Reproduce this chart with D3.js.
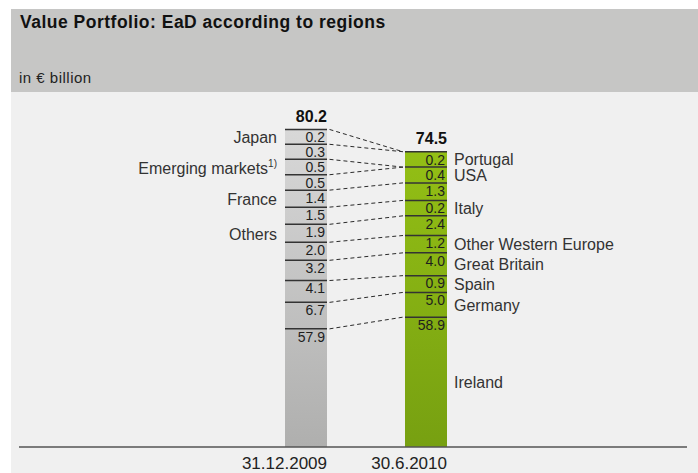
<!DOCTYPE html>
<html>
<head>
<meta charset="utf-8">
<script src="https://cdn.jsdelivr.net/npm/d3@7"></script>
<style>
  html, body { margin: 0; padding: 0; background: #ffffff; }
  svg { display: block; font-family: "Liberation Sans", Arial, Helvetica, sans-serif; }
</style>
</head>
<body>
<svg id="chart" width="698" height="473"></svg>
<script>
// Reporting dates and the EaD totals (in € billion)
const dates = ["31.12.2009", "30.6.2010"];
const totals = [80.2, 74.5];

// Regional breakdown, listed from the top of each stack down to the base
const values2009 = [0.2, 0.3, 0.5, 0.5, 1.4, 1.5, 1.9, 2.0, 3.2, 4.1, 6.7, 57.9];
const labels2009 = ["Japan", "", "Emerging markets", "", "France", "", "Others", "", "", "", "", ""];

const values2010 = [0.2, 0.4, 1.3, 0.2, 2.4, 1.2, 4.0, 0.9, 5.0, 58.9];
const labels2010 = ["Portugal", "USA", "", "Italy", "", "Other Western Europe", "Great Britain", "Spain", "Germany", "Ireland"];

// Which 2010 segment top each 2009 segment top is joined to
const links2009 = [0, 0, 1, 1, 2, 3, 4, 5, 6, 7, 8, 9];

const svg = d3.select("#chart");
const W = 698, H = 473;
const baseY = 447;

// Background panel and header band
svg.append("rect").attr("x", 11).attr("y", 9).attr("width", W - 11).attr("height", H - 9).attr("fill", "#f0f0f0");
svg.append("rect").attr("x", 11).attr("y", 9).attr("width", W - 11).attr("height", 83).attr("fill", "#c6c6c5");
svg.append("text").attr("x", 20).attr("y", 28)
  .attr("font-size", 17.5).attr("font-weight", "bold").attr("fill", "#111")
  .attr("letter-spacing", 0.5)
  .text("Value Portfolio: EaD according to regions");
svg.append("text").attr("x", 19).attr("y", 82.5)
  .attr("font-size", 15).attr("fill", "#222").attr("letter-spacing", 0.5)
  .text("in € billion");

// Horizontal position of the two stacks
const x = d3.scaleBand().domain(dates).range([285, 447]).paddingInner(0.65).paddingOuter(0);
const bw = x.bandwidth();

// Segment heights: a minimum height plus a part proportional to the value
const segScale = [
  d3.scaleLinear().domain([0, 100]).range([14.5, 193.5]),
  d3.scaleLinear().domain([0, 100]).range([15, 210])
];

function stack(values, scale) {
  const segs = values.map(v => ({ v, h: scale(v) }));
  let y = baseY;
  for (let i = segs.length - 1; i >= 0; i--) {
    y -= segs[i].h;
    segs[i].y = y;
  }
  return segs;
}

const stacks = [stack(values2009, segScale[0]), stack(values2010, segScale[1])];

// Vertical gradients for the bars
const defs = svg.append("defs");
const grads = [
  { id: "g2009", top: "#d8d8d8", bottom: "#afafae" },
  { id: "g2010", top: "#93bf15", bottom: "#77a011" }
];
grads.forEach((g, i) => {
  const lg = defs.append("linearGradient").attr("id", g.id)
    .attr("gradientUnits", "userSpaceOnUse")
    .attr("x1", 0).attr("x2", 0)
    .attr("y1", stacks[i][0].y).attr("y2", baseY);
  lg.append("stop").attr("offset", "0%").attr("stop-color", g.top);
  lg.append("stop").attr("offset", "100%").attr("stop-color", g.bottom);
});

// Dashed connectors between the two stacks
const gLinks = svg.append("g");
stacks[0].forEach((s, i) => {
  const t = stacks[1][links2009[i]];
  gLinks.append("line")
    .attr("x1", x(dates[0]) + bw + 2.5).attr("y1", s.y)
    .attr("x2", x(dates[1]) - 2).attr("y2", t.y)
    .attr("stroke", "#2a2a2a").attr("stroke-width", 1)
    .attr("stroke-dasharray", "4,3");
});

stacks.forEach((segs, i) => {
  const x0 = x(dates[i]);
  const g = svg.append("g");
  g.selectAll("rect").data(segs).join("rect")
    .attr("x", x0).attr("y", d => d.y)
    .attr("width", bw).attr("height", d => d.h)
    .attr("fill", `url(#${grads[i].id})`);
  g.selectAll("line.sep").data(segs).join("line")
    .attr("class", "sep")
    .attr("x1", x0).attr("x2", x0 + bw)
    .attr("y1", d => d.y).attr("y2", d => d.y)
    .attr("stroke", "#333").attr("stroke-width", 1.5);
  g.selectAll("text.val").data(segs).join("text")
    .attr("class", "val")
    .attr("x", x0 + bw - 2).attr("y", d => d.y + 12.8)
    .attr("text-anchor", "end").attr("font-size", 14).attr("fill", "#1e1e1e")
    .text(d => d.v.toFixed(1));
  // Total above the stack
  svg.append("text")
    .attr("x", x0 + bw).attr("y", segs[0].y - 7.5)
    .attr("text-anchor", "end").attr("font-size", 16).attr("font-weight", "bold").attr("fill", "#111")
    .text(totals[i].toFixed(1));
  // Date under the axis
  svg.append("text")
    .attr("x", x0 + bw).attr("y", 469)
    .attr("text-anchor", "end").attr("font-size", 17).attr("fill", "#222")
    .text(dates[i]);
});

// Region labels: 2009 on the left, 2010 on the right
stacks[0].forEach((s, i) => {
  if (!labels2009[i]) return;
  const t = svg.append("text")
    .attr("x", x(dates[0]) - 8).attr("y", s.y + s.h / 2 + 6.5)
    .attr("text-anchor", "end").attr("font-size", 16).attr("fill", "#333")
    .text(labels2009[i]);
  if (labels2009[i] === "Emerging markets") {
    t.append("tspan").attr("font-size", 10).attr("dy", -7).text("1)");
  }
});
stacks[1].forEach((s, i) => {
  if (!labels2010[i]) return;
  svg.append("text")
    .attr("x", x(dates[1]) + bw + 7).attr("y", s.y + s.h / 2 + 6)
    .attr("font-size", 16).attr("fill", "#333")
    .text(labels2010[i]);
});

// Baseline
svg.append("line")
  .attr("x1", 19).attr("x2", 687).attr("y1", baseY).attr("y2", baseY)
  .attr("stroke", "#555").attr("stroke-width", 1.5);
</script>
</body>
</html>
